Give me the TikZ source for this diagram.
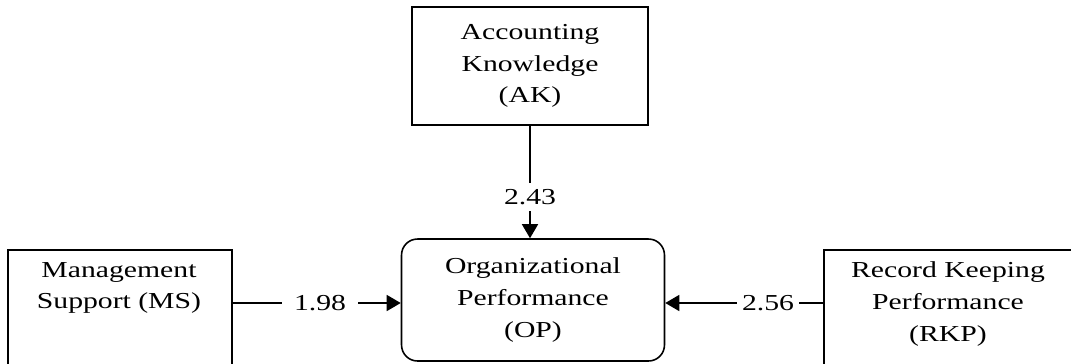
\documentclass[tikz,border=0pt]{standalone}
\usepackage{fontspec}
\setmainfont[FakeStretch=1.3]{Liberation Serif}
\usetikzlibrary{positioning, arrows.meta}

\begin{document}
\begin{tikzpicture}[x=0.02cm, y=-0.02cm,
    every node/.style={font=\fontsize{13}{18}\selectfont, align=center},
    box/.style={draw, line width=0.9pt, rectangle},
    opbox/.style={draw, line width=0.9pt, rounded corners=0.32cm},
    coef/.style={inner xsep=0.1cm, inner ysep=0.12cm},
    link/.style={line width=0.8pt},
    arrowlink/.style={line width=0.8pt, -{Triangle[length=0.28cm, width=0.32cm]}}]
    \useasboundingbox (0,0) rectangle (1071,363);
    \clip (0,0) rectangle (1071,363);

    % ----------------------------------------------------
    % Constructs
    % ----------------------------------------------------
    \node[box, minimum width=4.72cm, minimum height=2.36cm] (ak) at (530,66) {Accounting\\Knowledge\\(AK)};
    \node[opbox, minimum width=5.26cm, minimum height=2.44cm] (op) at (533,300) {Organizational\\Performance\\(OP)};

    % boxes running off the page
    \node[box, minimum width=4.48cm, minimum height=3cm, anchor=north west] (ms) at (7,249) {};
    \node (mstext) at (119,288) {Management\\Support (MS)};
    \node[box, minimum width=5cm, minimum height=3cm, anchor=north west] (rkp) at (823,249) {};
    \node (rkptext) at (948,304) {Record Keeping\\Performance\\(RKP)};

    % ----------------------------------------------------
    % Path coefficients
    % ----------------------------------------------------
    \node[coef] (c1) at (530,197) {2.43};
    \node[coef, inner xsep=0.24cm] (c2) at (320,303) {1.98};
    \node[coef] (c3) at (768,303) {2.56};

    \draw[link] (ak.south) -- (c1.north);
    \draw[arrowlink] (c1.south) -- (c1.south |- op.north);
    \draw[link] (ms.east |- c2.west) -- (c2.west);
    \draw[arrowlink] (c2.east) -- (op.west |- c2.east);
    \draw[link] (rkp.west |- c3.east) -- (c3.east);
    \draw[arrowlink] (c3.west) -- (op.east |- c3.west);
\end{tikzpicture}
\end{document}
